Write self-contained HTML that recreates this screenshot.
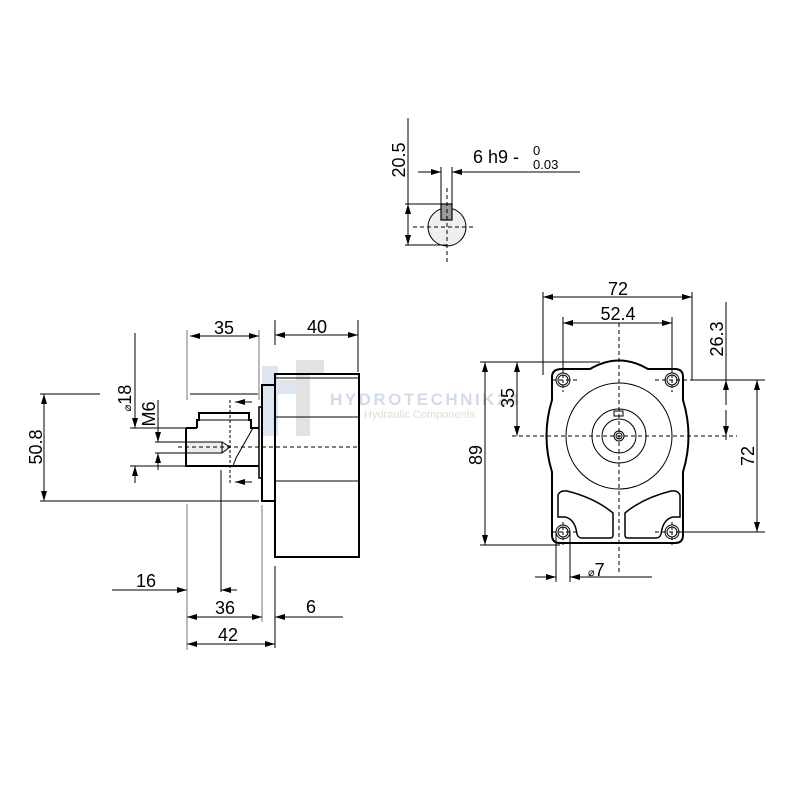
<!DOCTYPE html>
<html><head><meta charset="utf-8"><style>
html,body{margin:0;padding:0;background:#fff}
svg{display:block}
text{font-family:"Liberation Sans",sans-serif;fill:#000}
</style></head><body>
<svg width="800" height="800" viewBox="0 0 800 800" xmlns="http://www.w3.org/2000/svg">
<defs>
<marker id="a" viewBox="0 0 10 6" refX="10" refY="3" markerWidth="10" markerHeight="6" orient="auto-start-reverse" markerUnits="userSpaceOnUse"><path d="M0,0 L10,3 L0,6 Z" fill="#000"/></marker>
</defs>
<!-- watermark -->
<g opacity="0.4">
<rect x="262" y="366" width="16" height="70" fill="#a9bfdc"/>
<rect x="278" y="380" width="22" height="14" fill="#a9bfdc"/>
<rect x="296" y="360" width="14" height="76" fill="#b8b8b8"/>
<rect x="310" y="360" width="14" height="14" fill="#b8b8b8"/>
<text x="330" y="405" font-family="Liberation Serif" font-weight="bold" font-size="17" style="fill:#8fa8cc;letter-spacing:2.5px">HYDROTECHNIK24</text>
<text x="364" y="418" font-size="11" style="fill:#aaa">Hydraulic Components</text>
</g>
<g stroke="#000" fill="none" stroke-width="1">
<!-- top shaft detail -->
<circle cx="447" cy="227" r="19" fill="#efefef"/>
<rect x="441" y="204" width="11" height="16" fill="#999" stroke-width="1.2"/>
<line x1="447" y1="188" x2="447" y2="262" stroke-dasharray="4,3"/>
<line x1="413" y1="227" x2="473" y2="227" stroke-dasharray="4,3"/>
<line x1="441" y1="167" x2="441" y2="204"/>
<line x1="452" y1="167" x2="452" y2="204"/>
<line x1="418" y1="172" x2="441" y2="172" marker-end="url(#a)"/>
<line x1="580" y1="172" x2="452" y2="172" marker-end="url(#a)"/>
<line x1="408" y1="118" x2="408" y2="245"/>
<line x1="408" y1="225" x2="408" y2="204" marker-end="url(#a)"/>
<line x1="408" y1="225" x2="408" y2="245" marker-end="url(#a)"/>
<line x1="405" y1="204" x2="441" y2="204"/>
<line x1="405" y1="245" x2="447" y2="245"/>

<!-- side view body -->
<rect x="275" y="374" width="84" height="183" stroke-width="2"/>
<line x1="275" y1="378" x2="359" y2="378"/>
<line x1="275" y1="417" x2="359" y2="417"/>
<line x1="275" y1="481" x2="359" y2="481"/>
<rect x="262" y="385" width="13" height="116" stroke-width="2"/>
<rect x="259" y="407" width="3" height="71" stroke-width="1.5"/>
<path d="M186 442 L222 442 L230 447 L222 453 L186 453 Z" fill="#eee" stroke="none"/>
<path d="M186 428 L197 428 M250 428 L259 428 M186 428 L186 466 L259 466" stroke-width="2"/>
<path d="M197 428 L197 420 L199 420 L199 413 L249 413 L249 420 L251 420 L251 428" stroke-width="2"/>
<line x1="199" y1="420" x2="249" y2="420"/>
<path d="M186 442 L222 442 L230 447 L222 453 L186 453 M222 442 L222 453"/>
<path d="M253 428 L236 458 L233 466"/>
<line x1="178" y1="447" x2="358" y2="447" stroke-dasharray="4,3"/>
<line x1="230" y1="400" x2="230" y2="484" stroke-dasharray="3,2"/>
<line x1="252" y1="402" x2="235" y2="402" marker-end="url(#a)"/>
<line x1="252" y1="482" x2="235" y2="482" marker-end="url(#a)"/>
<!-- side dims -->
<line x1="187" y1="330" x2="187" y2="400" stroke="#777"/>
<line x1="187" y1="504" x2="187" y2="650" stroke="#777"/>
<line x1="259" y1="330" x2="259" y2="400" stroke="#777"/>
<line x1="262" y1="505" x2="262" y2="622" stroke="#777"/>
<line x1="275" y1="566" x2="275" y2="648"/>
<line x1="275" y1="320" x2="275" y2="345"/>
<line x1="358" y1="320" x2="358" y2="372"/>
<line x1="221" y1="470" x2="221" y2="592"/>
<line x1="190" y1="336" x2="259" y2="336" marker-start="url(#a)" marker-end="url(#a)"/>
<line x1="275" y1="335" x2="358" y2="335" marker-start="url(#a)" marker-end="url(#a)"/>
<line x1="112" y1="590" x2="187" y2="590" marker-end="url(#a)"/>
<line x1="237" y1="590" x2="221" y2="590" marker-end="url(#a)"/>
<line x1="187" y1="617" x2="262" y2="617" marker-start="url(#a)" marker-end="url(#a)"/>
<line x1="343" y1="617" x2="275" y2="617" marker-end="url(#a)"/>
<line x1="187" y1="644" x2="275" y2="644" marker-start="url(#a)" marker-end="url(#a)"/>
<line x1="44" y1="394" x2="44" y2="501" marker-start="url(#a)" marker-end="url(#a)"/>
<line x1="40" y1="394" x2="100" y2="394"/>
<line x1="190" y1="394" x2="258" y2="394"/>
<line x1="40" y1="501" x2="259" y2="501"/>
<line x1="135" y1="333" x2="135" y2="428" marker-end="url(#a)"/>
<line x1="135" y1="483" x2="135" y2="466" marker-end="url(#a)"/>
<line x1="130" y1="428" x2="186" y2="428"/>
<line x1="130" y1="466" x2="186" y2="466"/>
<line x1="158" y1="400" x2="158" y2="442" marker-end="url(#a)"/>
<line x1="158" y1="470" x2="158" y2="453" marker-end="url(#a)"/>
<line x1="155" y1="442" x2="186" y2="442"/>
<line x1="155" y1="453" x2="186" y2="453"/>

<!-- front view -->
<path d="M562 369 L590 369 Q619 352 648 369 L675 369 Q683 369 683 377 L683 400 Q694 436 683 472 L683 535 Q683 543 675 543 L560 543 Q552 543 552 535 L552 472 Q541 436 552 400 L552 377 Q552 369 562 369 Z" stroke-width="2"/>
<circle cx="619" cy="436" r="53"/>
<circle cx="619" cy="436" r="27"/>
<circle cx="619" cy="436" r="17"/>
<circle cx="619" cy="436" r="5"/>
<circle cx="619" cy="436" r="3"/>
<rect x="614" y="411" width="9" height="5"/>
<circle cx="563" cy="380" r="7"/><circle cx="563" cy="380" r="5"/>
<circle cx="672" cy="380" r="7"/><circle cx="672" cy="380" r="5"/>
<circle cx="563" cy="532" r="7"/><circle cx="563" cy="532" r="5"/>
<circle cx="672" cy="532" r="7"/><circle cx="672" cy="532" r="5"/>
<path d="M558 495 Q560 490 567 491 Q595 498 613 513 L613 535 Q613 538 610 538 L582 538 Q578 538 577 534 Q575 519 565 517 L558 517 Z" stroke-width="1.5"/>
<path d="M680 495 Q678 490 671 491 Q643 498 625 513 L625 535 Q625 538 628 538 L656 538 Q660 538 661 534 Q663 519 673 517 L680 517 Z" stroke-width="1.5"/>
<line x1="619" y1="323" x2="619" y2="572" stroke-dasharray="4,3"/>
<line x1="512" y1="436" x2="737" y2="436" stroke-dasharray="4,3"/>
<line x1="552" y1="380" x2="580" y2="380" stroke-dasharray="4,3"/>
<line x1="655" y1="380" x2="690" y2="380" stroke-dasharray="4,3"/>
<line x1="552" y1="532" x2="580" y2="532" stroke-dasharray="4,3"/>
<line x1="655" y1="532" x2="690" y2="532" stroke-dasharray="4,3"/>
<line x1="563" y1="370" x2="563" y2="392" stroke-dasharray="3,2"/>
<line x1="672" y1="370" x2="672" y2="392" stroke-dasharray="3,2"/>
<line x1="563" y1="522" x2="563" y2="545" stroke-dasharray="3,2"/>
<line x1="672" y1="522" x2="672" y2="545" stroke-dasharray="3,2"/>
<!-- front dims -->
<line x1="543" y1="292" x2="543" y2="375"/>
<line x1="692" y1="292" x2="692" y2="380"/>
<line x1="563" y1="317" x2="563" y2="368"/>
<line x1="672" y1="317" x2="672" y2="368"/>
<line x1="543" y1="297" x2="692" y2="297" marker-start="url(#a)" marker-end="url(#a)"/>
<line x1="563" y1="323" x2="672" y2="323" marker-start="url(#a)" marker-end="url(#a)"/>
<line x1="726" y1="302" x2="726" y2="380"/>
<line x1="726" y1="405" x2="726" y2="380" marker-end="url(#a)"/>
<line x1="726" y1="410" x2="726" y2="436" marker-end="url(#a)"/>
<line x1="726" y1="436" x2="726" y2="440"/>
<line x1="690" y1="380" x2="765" y2="380"/>
<line x1="680" y1="532" x2="765" y2="532"/>
<line x1="757" y1="380" x2="757" y2="532" marker-start="url(#a)" marker-end="url(#a)"/>
<line x1="480" y1="362" x2="600" y2="362"/>
<line x1="480" y1="545" x2="560" y2="545"/>
<line x1="485" y1="362" x2="485" y2="545" marker-start="url(#a)" marker-end="url(#a)"/>
<line x1="517" y1="362" x2="517" y2="436" marker-start="url(#a)" marker-end="url(#a)"/>
<line x1="556" y1="532" x2="556" y2="582"/>
<line x1="570" y1="532" x2="570" y2="582"/>
<line x1="535" y1="577" x2="556" y2="577" marker-end="url(#a)"/>
<line x1="652" y1="577" x2="570" y2="577" marker-end="url(#a)"/>
</g>
<!-- labels -->
<g font-size="18">
<text x="473" y="163">6 h9 -</text>
<text x="533" y="155" font-size="13">0</text>
<text x="533" y="169" font-size="13">0.03</text>
<text transform="translate(405,160) rotate(-90)" text-anchor="middle">20.5</text>
<text x="224" y="334" text-anchor="middle">35</text>
<text x="317" y="333" text-anchor="middle">40</text>
<text x="146" y="587" text-anchor="middle">16</text>
<text x="225" y="614" text-anchor="middle">36</text>
<text x="311" y="613" text-anchor="middle">6</text>
<text x="228" y="641" text-anchor="middle">42</text>
<text transform="translate(42,447) rotate(-90)" text-anchor="middle">50.8</text>
<text transform="translate(131,398) rotate(-90)" text-anchor="middle"><tspan font-size="11">⌀</tspan>18</text>
<text transform="translate(155,414) rotate(-90)" text-anchor="middle">M6</text>
<text x="618" y="295" text-anchor="middle">72</text>
<text x="618" y="320" text-anchor="middle">52.4</text>
<text transform="translate(723,339) rotate(-90)" text-anchor="middle">26.3</text>
<text transform="translate(754,456) rotate(-90)" text-anchor="middle">72</text>
<text transform="translate(482,455) rotate(-90)" text-anchor="middle">89</text>
<text transform="translate(514,398) rotate(-90)" text-anchor="middle">35</text>
<text x="588" y="576"><tspan font-size="11">⌀</tspan>7</text>
</g>
</svg>
</body></html>
